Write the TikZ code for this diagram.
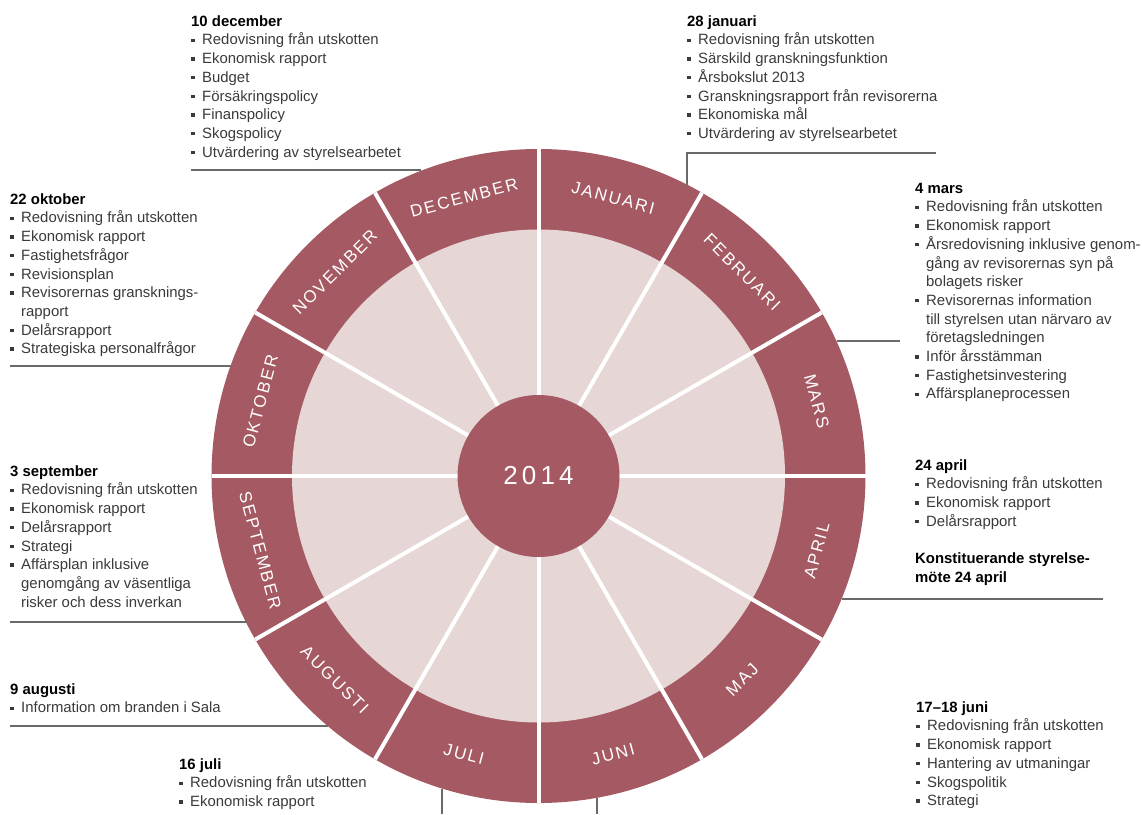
\documentclass[tikz,border=0pt]{standalone}
\usepackage{fontspec}
\setmainfont{Liberation Sans}
\newfontfamily\monthfont[LetterSpace=12]{Liberation Sans}
\newfontfamily\yearfont[LetterSpace=16]{Liberation Sans}
\usepackage{xcolor}
\usepackage{tikz}

\definecolor{rose}{HTML}{A55A63}
\definecolor{blush}{HTML}{E6D6D6}
\definecolor{ink}{HTML}{3A3A3A}
\definecolor{leadgray}{HTML}{6A6A6A}

% bullet, continued line and heading of a meeting list
\newcommand{\bul}{\makebox[11pt][l]{\rule[3pt]{3.4pt}{3.4pt}}}
\newcommand{\cont}{\hspace*{11pt}}
\newcommand{\hd}[1]{\rule{0pt}{12pt}{\color{black}\bfseries #1}}

\begin{document}
\begin{tikzpicture}[x=1pt,y=1pt,
  block/.style={anchor=north west,align=left,inner sep=0pt,text=ink,
    font=\fontsize{14.9}{18.7}\selectfont},
  lead/.style={draw=leadgray,line width=1.2pt},
  month/.style={text=white,inner sep=0pt,font=\monthfont\fontsize{17}{17}\selectfont}]
\useasboundingbox (0,0) rectangle (1142,-814);

% meeting lists
\node[block] (dec) at (191,-14) {\hd{10 december}\\
\bul Redovisning från utskotten\\
\bul Ekonomisk rapport\\
\bul Budget\\
\bul Försäkringspolicy\\
\bul Finanspolicy\\
\bul Skogspolicy\\
\bul Utvärdering av styrelsearbetet};
\node[block] (jan) at (687,-14) {\hd{28 januari}\\
\bul Redovisning från utskotten\\
\bul Särskild granskningsfunktion\\
\bul Årsbokslut 2013\\
\bul Granskningsrapport från revisorerna\\
\bul Ekonomiska mål\\
\bul Utvärdering av styrelsearbetet};
\node[block] (mar) at (915,-181) {\hd{4 mars}\\
\bul Redovisning från utskotten\\
\bul Ekonomisk rapport\\
\bul Årsredovisning inklusive genom-\\
\cont gång av revisorernas syn på\\
\cont bolagets risker\\
\bul Revisorernas information\\
\cont till styrelsen utan närvaro av\\
\cont företagsledningen\\
\bul Inför årsstämman\\
\bul Fastighetsinvestering\\
\bul Affärsplaneprocessen};
\node[block] (apr) at (915,-458) {\hd{24 april}\\
\bul Redovisning från utskotten\\
\bul Ekonomisk rapport\\
\bul Delårsrapport\\[18.7pt]
{\color{black}\bfseries Konstituerande styrelse-}\\
{\color{black}\bfseries möte 24 april}};
\node[block] (okt) at (10,-192) {\hd{22 oktober}\\
\bul Redovisning från utskotten\\
\bul Ekonomisk rapport\\
\bul Fastighetsfrågor\\
\bul Revisionsplan\\
\bul Revisorernas gransknings-\\
\cont rapport\\
\bul Delårsrapport\\
\bul Strategiska personalfrågor};
\node[block] (sep) at (10,-464) {\hd{3 september}\\
\bul Redovisning från utskotten\\
\bul Ekonomisk rapport\\
\bul Delårsrapport\\
\bul Strategi\\
\bul Affärsplan inklusive\\
\cont genomgång av väsentliga\\
\cont risker och dess inverkan};
\node[block] (aug) at (10,-682) {\hd{9 augusti}\\
\bul Information om branden i Sala};
\node[block] (jul) at (179,-757) {\hd{16 juli}\\
\bul Redovisning från utskotten\\
\bul Ekonomisk rapport};
\node[block] (jun) at (916,-700) {\hd{17--18 juni}\\
\bul Redovisning från utskotten\\
\bul Ekonomisk rapport\\
\bul Hantering av utmaningar\\
\bul Skogspolitik\\
\bul Strategi};

% the wheel
\node[circle,fill=rose,minimum size=654pt,inner sep=0pt,outer sep=0pt] (wheel) at (538.5,-476) {};

% leader lines out to the rim
\coordinate (decl) at (191,-170);
\coordinate (janl) at (936,-153);
\coordinate (marl) at (900,-341);
\coordinate (aprl) at (1103,-599);
\coordinate (oktl) at (10,-366);
\coordinate (sepl) at (10,-622);
\coordinate (augl) at (10,-726);
\coordinate (jull) at (442,-814);
\coordinate (junl) at (597,-814);
\draw[lead] (decl) -- (decl -| wheel.111);
\draw[lead] (janl) -- (janl -| wheel.63) -- (wheel.63);
\draw[lead] (marl) -- (wheel.24 |- marl);
\draw[lead] (aprl) -- (wheel.338 |- aprl);
\draw[lead] (oktl) -- (oktl -| wheel.160);
\draw[lead] (sepl) -- (sepl -| wheel.207);
\draw[lead] (augl) -- (augl -| wheel.230);
\draw[lead] (jull) -- (jull |- wheel.253);
\draw[lead] (junl) -- (junl |- wheel.280);

\node[circle,fill=blush,minimum size=493pt,inner sep=0pt] (disc) at (wheel) {};
\foreach \a in {0,30,...,330}
  \draw[white,line width=4pt] (wheel.center) -- (wheel.\a);
\node[circle,fill=rose,minimum size=162pt,inner sep=0pt,text=white,
  font=\yearfont\fontsize{26}{26}\selectfont] (hub) at (wheel) {2014};

% month names round the ring
\foreach \m/\a/\r in {JANUARI/75/-15,FEBRUARI/45/-45,MARS/15/-75,APRIL/-15/75,
    MAJ/-45/45,JUNI/-75/15,JULI/-105/-15,AUGUSTI/-135/-45,SEPTEMBER/-165/-75,
    OKTOBER/165/75,NOVEMBER/135/45,DECEMBER/105/15}
  \path (wheel.center) ++(\a:288) node[month,rotate=\r] (m-\m) {\m};
\end{tikzpicture}
\end{document}
